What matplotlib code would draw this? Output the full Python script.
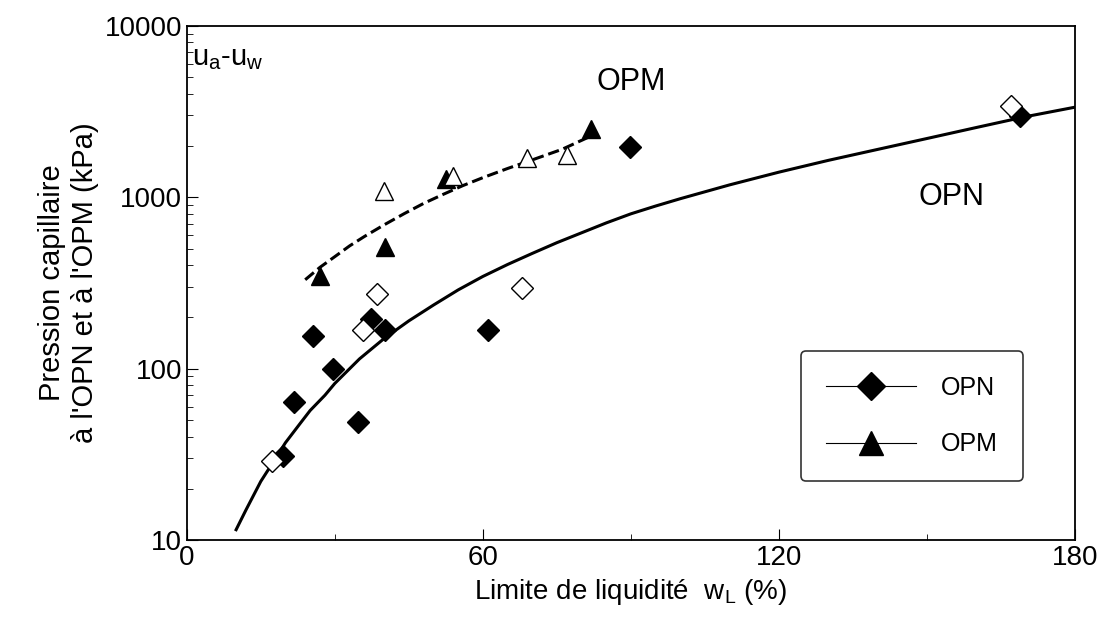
import matplotlib.pyplot as plt
from matplotlib.lines import Line2D
from matplotlib.ticker import FixedLocator, FixedFormatter, NullFormatter

plt.rcParams['font.family'] = ['Liberation Sans', 'DejaVu Sans']

opn_fill_x = [19.5, 21.8, 25.5, 29.6, 34.7, 37.3, 40.1, 61, 89.8, 168.9]
opn_fill_y = [31, 64, 154, 99, 49, 196, 167, 169, 1970, 2985]
opn_open_x = [17.2, 35.7, 38.5, 67.9, 167]
opn_open_y = [29, 167, 271, 294, 3414]
opm_fill_x = [27, 40.1, 52.5, 81.9]
opm_fill_y = [345, 515, 1283, 2512]
opm_open_x = [39.9, 53.9, 68.9, 77]
opm_open_y = [1092, 1336, 1700, 1771]

opn_curve_x = [10, 12, 15, 18, 20, 23, 25, 28, 30, 35, 40, 45, 50, 55, 60, 65, 70, 75, 80,
               85, 90, 95, 100, 110, 120, 130, 140, 150, 160, 170, 180]
opn_curve_y = [11.5, 15, 22, 30, 37, 48, 57, 70, 82, 114, 150, 190, 235, 288, 345, 405, 470,
               543, 620, 708, 800, 888, 980, 1180, 1400, 1640, 1900, 2200, 2550, 2950, 3350]
opm_curve_x = [24, 27, 30, 33, 36, 40, 44, 48, 52, 56, 60, 65, 70, 76, 83]
opm_curve_y = [330, 390, 450, 520, 590, 690, 800, 920, 1040, 1170, 1300, 1470, 1650, 1900, 2350]

fig = plt.figure(figsize=(11.05, 6.43), dpi=100)
ax = fig.add_axes([0.169, 0.16, 0.804, 0.80])

ax.plot(opn_curve_x, opn_curve_y, 'k-', lw=2.2)
ax.plot(opm_curve_x, opm_curve_y, 'k--', lw=2.2)
ax.plot(opn_fill_x, opn_fill_y, 'kD', ms=11, ls='none')
ax.plot(opn_open_x, opn_open_y, 'D', mfc='white', mec='k', ms=11, ls='none')
ax.plot(opm_fill_x, opm_fill_y, 'k^', ms=13, ls='none')
ax.plot(opm_open_x, opm_open_y, '^', mfc='white', mec='k', ms=13, ls='none')

ax.set_yscale('log')
ax.set_xlim(0, 180)
ax.set_ylim(10, 10000)
ax.yaxis.set_major_locator(FixedLocator([10, 100, 1000, 10000]))
ax.yaxis.set_major_formatter(FixedFormatter(['10', '100', '1000', '10000']))
ax.yaxis.set_minor_formatter(NullFormatter())
ax.set_xticks([0, 60, 120, 180])
ax.set_xticks([30, 90, 150], minor=True)
ax.tick_params(which='both', direction='in', labelsize=20)
ax.tick_params(which='major', length=8)
ax.tick_params(which='minor', length=4)
for s in ax.spines.values():
    s.set_linewidth(1.3)

ax.set_xlabel(r'Limite de liquidité  $\mathregular{w_L}$ (%)', fontsize=20)
ax.set_ylabel("Pression capillaire\nà l'OPN et à l'OPM (kPa)", fontsize=21)
ax.text(1, 6500, r'$\mathregular{u_a}$-$\mathregular{u_w}$', fontsize=21, va='center')
ax.text(90, 4200, 'OPM', fontsize=22, ha='center')
ax.text(155, 900, 'OPN', fontsize=22, ha='center')

handles = [Line2D([], [], color='k', lw=0.8, marker='D', ms=14),
           Line2D([], [], color='k', lw=0.8, marker='^', ms=17)]
leg = ax.legend(handles, ['OPN', 'OPM'], loc='lower right', bbox_to_anchor=(0.955, 0.09),
                fontsize=18, handlelength=3.6, labelspacing=1.3, borderpad=1.0,
                handletextpad=1.0, edgecolor='k', fancybox=True)
leg.get_frame().set_linewidth(1.2)

fig.savefig('out.png')
